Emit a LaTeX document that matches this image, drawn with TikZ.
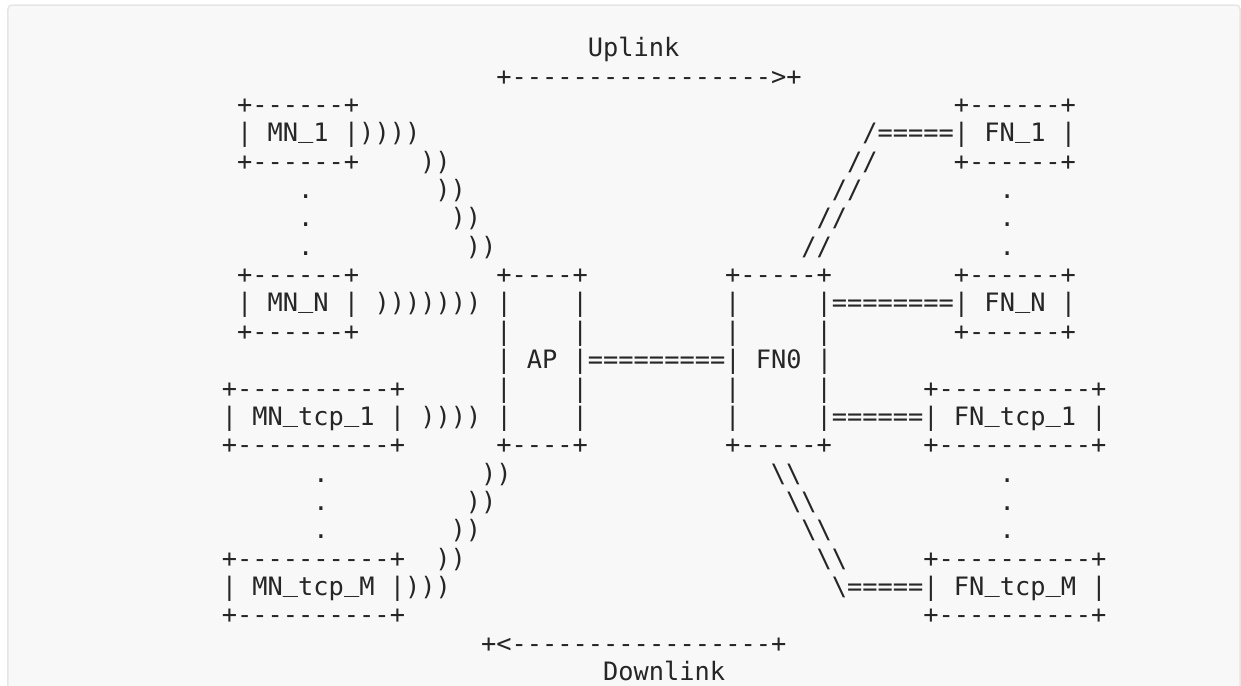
\documentclass[tikz,border=0pt]{standalone}
\usepackage{fontspec}
\setmonofont{DejaVu Sans Mono}
\definecolor{ink}{HTML}{262626}
\definecolor{panel}{HTML}{F8F8F8}
\definecolor{panelrule}{HTML}{E6E6E6}
\newcommand{\us}{\raisebox{0.17em}{\textunderscore}}

\begin{document}
\begin{tikzpicture}
  [x=0.305cm,y=-0.5672cm,every node/.style={anchor=base west,inner sep=0pt,text=ink,font=\ttfamily\fontsize{14.42}{17}\selectfont}]
  \useasboundingbox (-4.432cm,1.134cm) rectangle (20.388cm,-12.566cm);
  \begin{scope}
    \clip (-4.432cm,1.134cm) rectangle (20.388cm,-12.566cm);
    \draw[panelrule,fill=panel,line width=0.03cm,rounded corners=0.08cm] (-4.272cm,1.034cm) rectangle (20.368cm,-12.866cm);
  \end{scope}

  \node (uplink) at (24,0) {Uplink};
  \node (uparrow) at (18,1) {+----------------->+};
  \node (downarrow) at (17,21) {+<-----------------+};
  \node (downlink) at (25,22) {Downlink};

  % mobile nodes
  \node (mn1top) at (1,2) {+------+};
  \node (mn1) at (1,3) {| MN\us 1 |))))};
  \node (mn1bot) at (1,4) {+------+};
  \node (mnNtop) at (1,8) {+------+};
  \node (mnN) at (1,9) {| MN\us N | ))))))) |};
  \node (mnNbot) at (1,10) {+------+};
  \node (tcp1top) at (0,12) {+----------+};
  \node (tcp1) at (0,13) {| MN\us tcp\us 1 | )))) |};
  \node (tcp1bot) at (0,14) {+----------+};
  \node (tcpMtop) at (0,18) {+----------+};
  \node (tcpM) at (0,19) {| MN\us tcp\us M |)))};
  \node (tcpMbot) at (0,20) {+----------+};

  % AP and FN0
  \node (aptop) at (18,8) {+----+};
  \node (fn0top) at (33,8) {+-----+};
  \node (link) at (18,11) {| AP |=========| FN0 |};
  \node (apbot) at (18,14) {+----+};
  \node (fn0bot) at (33,14) {+-----+};
  \foreach \r in {9,10,12,13} {
    \node (apR\r) at (23,\r) {|};
    \node (fn0L\r) at (33,\r) {|};}
  \foreach \r in {10,12} {
    \node (apL\r) at (18,\r) {|};
    \node (fn0R\r) at (39,\r) {|};}

  % fixed nodes
  \node (fn1top) at (48,2) {+------+};
  \node (fn1) at (42,3) {/=====| FN\us 1 |};
  \node (fn1bot) at (48,4) {+------+};
  \node (fnNtop) at (48,8) {+------+};
  \node (fnN) at (39,9) {|========| FN\us N |};
  \node (fnNbot) at (48,10) {+------+};
  \node (fntcp1top) at (46,12) {+----------+};
  \node (fntcp1) at (39,13) {|======| FN\us tcp\us 1 |};
  \node (fntcp1bot) at (46,14) {+----------+};
  \node (fntcpMtop) at (46,18) {+----------+};
  \node (fntcpM) at (40,19) {\textbackslash=====| FN\us tcp\us M |};
  \node (fntcpMbot) at (46,20) {+----------+};

  % radio and wired links
  \foreach \r/\c in {4/13,5/14,6/15,7/16,15/17,16/16,17/15,18/14}
    \node (wave\r) at (\c,\r) {))};
  \foreach \r/\c in {4/41,5/40,6/39,7/38}
    \node (up\r) at (\c,\r) {//};
  \foreach \r/\c in {15/36,16/37,17/38,18/39}
    \node (dn\r) at (\c,\r) {\textbackslash\textbackslash};
  \foreach \r in {5,6,7} {
    \node (dotmn\r) at (5,\r) {.};
    \node (dotfn\r) at (51,\r) {.};}
  \foreach \r in {15,16,17} {
    \node (dottcp\r) at (6,\r) {.};
    \node (dotfntcp\r) at (51,\r) {.};}

\end{tikzpicture}
\end{document}
